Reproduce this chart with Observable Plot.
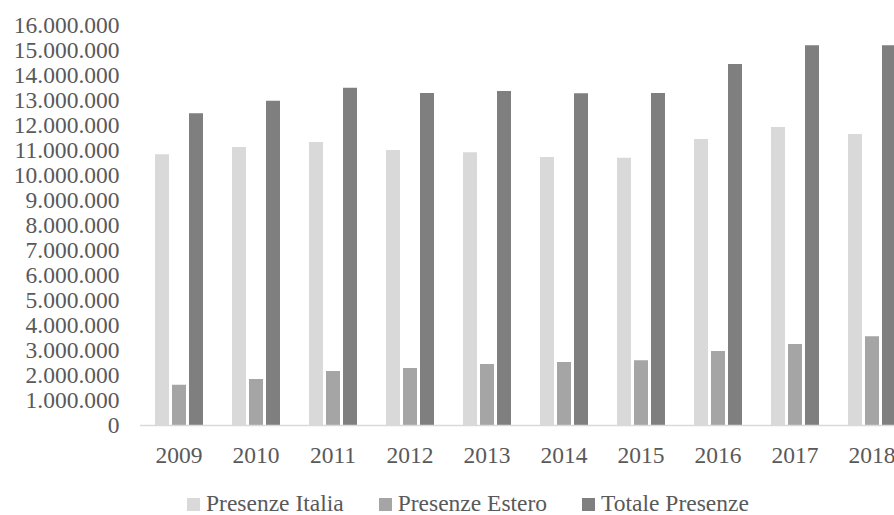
<!DOCTYPE html>
<html>
<head>
<meta charset="utf-8">
<script src="https://cdn.jsdelivr.net/npm/d3@7"></script>
<script src="https://cdn.jsdelivr.net/npm/@observablehq/plot@0.6"></script>
<style>
  html, body { margin: 0; padding: 0; background: #fff; overflow: hidden; }
  #chart { position: relative; width: 894px; height: 515px; overflow: hidden; }
  #legend {
    position: absolute; left: 187px; top: 491px; height: 24px; line-height: 24px;
    display: flex; align-items: center; white-space: nowrap;
    font-family: "Liberation Serif", "Times New Roman", serif; font-size: 23.5px; color: #595959;
  }
  #legend .item { display: flex; align-items: center; margin-right: 35px; height: 24px; }
  #legend .sw { width: 13px; height: 13px; margin-right: 6px; margin-top: 2px; }
</style>
</head>
<body>
<div id="chart"></div>
<script>
// Presenze turistiche per anno
const years = ["2009", "2010", "2011", "2012", "2013", "2014", "2015", "2016", "2017", "2018"];
const presenzeItalia = [10830000, 11120000, 11320000, 11000000, 10910000, 10720000, 10690000, 11440000, 11920000, 11640000];
const presenzeEstero = [1610000, 1840000, 2160000, 2280000, 2440000, 2520000, 2590000, 2960000, 3240000, 3550000];
const totalePresenze = [12470000, 12970000, 13490000, 13280000, 13360000, 13270000, 13280000, 14440000, 15190000, 15190000];
const seriesNames = ["Presenze Italia", "Presenze Estero", "Totale Presenze"];
const seriesColors = ["#d9d9d9", "#a5a5a5", "#7f7f7f"];
const yTicks = d3.range(0, 16000001, 1000000);

// long table: one row per year and series
const seriesValues = [presenzeItalia, presenzeEstero, totalePresenze];
const rows = years.flatMap((year, i) =>
  seriesNames.map((series, s) => ({ year, series, value: seriesValues[s][i] }))
);

// Italian number format: 1.000.000
const it = d3.formatLocale({ decimal: ",", thousands: ".", grouping: [3], currency: ["€", ""] });
const fmt = it.format(",d");

const chart = Plot.plot({
  width: 894,
  height: 475,
  marginTop: 25,
  marginBottom: 50,
  marginLeft: 138,
  marginRight: -17,
  style: {
    fontFamily: "'Liberation Serif', 'Times New Roman', serif",
    fontSize: "23.5px",
    color: "#595959",
    background: "#fff",
    overflow: "visible"
  },
  fx: { domain: years, padding: 0, axis: "bottom", label: null, tickSize: 0, tickPadding: 21 },
  x: { domain: seriesNames, paddingInner: 0.2, paddingOuter: 0.85, axis: null },
  y: { domain: [0, 16000000], ticks: yTicks, tickFormat: fmt, tickSize: 0, tickPadding: 21, label: null },
  color: { domain: seriesNames, range: seriesColors },
  marks: [
    Plot.barY(rows, { fx: "year", x: "series", y: "value", fill: "series" }),
    Plot.ruleY([0], { stroke: "#d9d9d9", strokeWidth: 1.5 })
  ]
});
document.getElementById("chart").appendChild(chart);

// legend built from the color scale
const color = chart.scale("color");
const legend = document.createElement("div");
legend.id = "legend";
color.domain.forEach((name, i) => {
  const item = document.createElement("div");
  item.className = "item";
  const sw = document.createElement("span");
  sw.className = "sw";
  sw.style.background = color.range[i];
  const label = document.createElement("span");
  label.textContent = name;
  item.appendChild(sw);
  item.appendChild(label);
  legend.appendChild(item);
});
document.getElementById("chart").appendChild(legend);
</script>
</body>
</html>
